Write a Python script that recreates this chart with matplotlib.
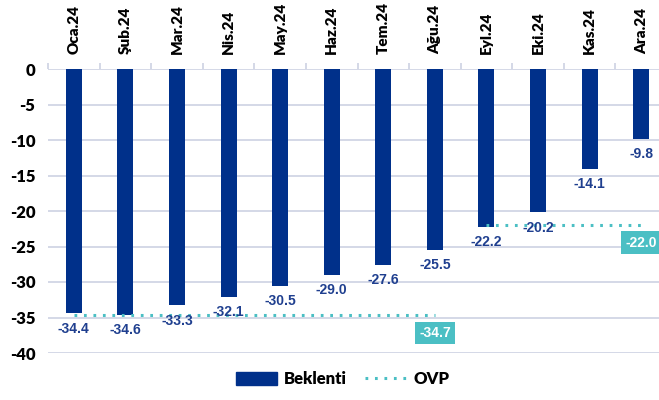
import numpy as np
import matplotlib.pyplot as plt
from matplotlib.patches import Rectangle
from matplotlib.lines import Line2D

plt.rcParams["axes.unicode_minus"] = False

months = ["Oca.24", "Şub.24", "Mar.24", "Nis.24", "May.24", "Haz.24",
          "Tem.24", "Ağu.24", "Eyl.24", "Eki.24", "Kas.24", "Ara.24"]
beklenti = [-34.4, -34.6, -33.3, -32.1, -30.5, -29.0, -27.6, -25.5, -22.2, -20.2, -14.1, -9.8]
# OVP targets: first 8 months, then last 4
ovp_1 = [-34.7] * 8
ovp_2 = [-22.0] * 4

navy = "#00308a"
teal = "#4bbfc4"
grid_c = "#cdd2e3"

fig = plt.figure(figsize=(6.59, 4.0), dpi=100)
# axes run a bit past the right edge like the original
ax = fig.add_axes([48/659, 47/400, 619/659, 284/400])

x = np.arange(len(months))
ax.bar(x, beklenti, width=0.31, color=navy, zorder=3)

ax.plot(x[:8], ovp_1, linestyle=(0, (0.9, 2.2)), color=teal, lw=2.2, zorder=4)
ax.plot(x[8:], ovp_2, linestyle=(0, (0.9, 2.2)), color=teal, lw=2.2, zorder=4)

for xi, v in zip(x, beklenti):
    ax.annotate(f"{v:.1f}", (xi, v), xytext=(0, -11), textcoords="offset points",
                ha="center", va="center", fontsize=10, fontweight="bold",
                color="#1f3f8f", family="Liberation Sans", zorder=5)

for xi, v in [(x[7], ovp_1[-1]), (x[-1], ovp_2[-1])]:
    ax.annotate(f"{v:.1f}", (xi, v), xytext=(0, -12.5), textcoords="offset points",
                ha="center", va="center", fontsize=10, fontweight="bold",
                color="white", family="Liberation Sans", zorder=6,
                bbox=dict(boxstyle="square,pad=0.3", fc=teal, ec="none"))

ax.set_xlim(-0.5, len(months) - 0.5)
ax.set_ylim(-40, 0)
ax.set_yticks(np.arange(-40, 1, 5))
ax.yaxis.grid(True, color=grid_c, lw=1.2, zorder=0)
ax.tick_params(axis="y", length=0, pad=9, labelsize=12)
for lab in ax.get_yticklabels():
    lab.set_fontweight("heavy")
    lab.set_family("Lato")

ax.xaxis.tick_top()
ax.set_xticks(x)
ax.set_xticklabels(months, rotation=90, fontsize=11, fontweight="heavy", family="Lato")
ax.tick_params(axis="x", which="major", length=0, pad=11)
ax.set_xticks(np.arange(-0.5, len(months), 1), minor=True)
ax.tick_params(axis="x", which="minor", length=4, color=grid_c, width=1.2, direction="out")

for s in ax.spines.values():
    s.set_visible(False)

handles = [Rectangle((0, 0), 1, 1, color=navy),
           Line2D([0], [0], linestyle=(0, (0.9, 2.2)), color=teal, lw=2.2)]
fig.legend(handles, ["Beklenti", "OVP"], loc="lower center", bbox_to_anchor=(0.52, -0.005),
           ncol=2, frameon=False, prop={"family": "Lato", "size": 12, "weight": "heavy"},
           handlelength=2.5, handleheight=0.8, handletextpad=0.4, columnspacing=1.1)

fig.savefig("out.png", dpi=100)
